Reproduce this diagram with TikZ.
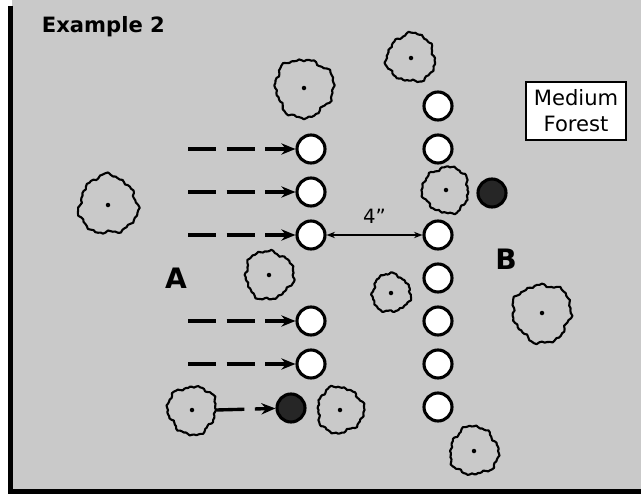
\documentclass[tikz,border=0pt]{standalone}
\usepackage{fontspec}
\setsansfont{DejaVu Sans}
\usetikzlibrary{arrows.meta}
\definecolor{paper}{RGB}{201,201,201}
\tikzset{
  peg/.style={circle, draw, line width=2.2pt, fill=white, minimum size=0.7cm, inner sep=0pt},
  hit/.style={peg, fill=black!85},
  bushline/.style={line width=1.5pt, fill=paper, line join=round},
  bushspot/.style={circle, draw=none, inner sep=0pt},
  shot/.style={line width=2.4pt, dash pattern=on 20pt off 7.5pt, -{Stealth[length=10pt,width=8pt]}},
  span/.style={line width=1.2pt, {Stealth[length=6pt,width=4.5pt]}-{Stealth[length=6pt,width=4.5pt]}},
  letter/.style={font=\sffamily\bfseries\fontsize{20}{24}\selectfont}
}
\begin{document}
\begin{tikzpicture}[x=0.025cm, y=-0.025cm]
  \useasboundingbox (0,0) rectangle (641,494);
  \fill[paper] (12,0) rectangle (641,490);
  \fill[black] (8,6) rectangle (13,494);
  \fill[black] (8,489) rectangle (641,494);

  \node[anchor=west, font=\sffamily\bfseries\fontsize{15}{18}\selectfont] (title) at (37,27) {Example 2};
  \node[draw, line width=1.8pt, fill=white, align=center, minimum width=2.5cm, minimum height=1.45cm,
        font=\sffamily\fontsize{15}{18.5}\selectfont] (forest) at (576,111) {Medium\\Forest};

  \foreach \bx/\by/\br/\ba/\bn in {108/205/29/0/k1, 304/88/29/40/k2, 411/58/24/100/k3,
      446/190/23/200/k4, 269/275/24/150/k5, 391/293/19/250/k6, 542/313/29/60/k7,
      192/410/24/300/k8, 340/410/23/20/k9, 474/451/24/120/k10} {
    \draw[bushline, shift={(\bx,\by)}, rotate=\ba]
      plot[smooth cycle, domain=0:355, samples=72, variable=\t]
      (\t:{\br*(1+0.05*sin(3*\t+20)+0.035*sin(7*\t)+0.03*sin(11*\t+60)+0.025*sin(23*\t))});
    \node[bushspot, minimum size=\br*0.05cm] (\bn) at (\bx,\by) {};
    \fill (\bn) circle (1.6pt);
  }

  \node[peg] (a1) at (311,149) {};
  \node[peg] (a2) at (311,192) {};
  \node[peg] (a3) at (311,235) {};
  \node[peg] (a5) at (311,321) {};
  \node[peg] (a6) at (311,364) {};
  \node[hit] (a7) at (291,408) {};

  \node[peg] (b0) at (438,106) {};
  \node[peg] (b1) at (438,149) {};
  \node[peg] (b3) at (438,235) {};
  \node[peg] (b4) at (438,278) {};
  \node[peg] (b5) at (438,321) {};
  \node[peg] (b6) at (438,364) {};
  \node[peg] (b7) at (438,407) {};
  \node[hit] (b2) at (492,193) {};

  \coordinate (s1) at (188,149);
  \coordinate (s2) at (188,192);
  \coordinate (s3) at (188,235);
  \coordinate (s5) at (188,321);
  \coordinate (s6) at (188,364);
  \draw[shot] (s1) -- (a1);
  \draw[shot] (s2) -- (a2);
  \draw[shot] (s3) -- (a3);
  \draw[shot] (s5) -- (a5);
  \draw[shot] (s6) -- (a6);
  \draw[shot] (k8.east) -- (a7);

  \draw[span] (a3) -- (b3) node[midway, above=4pt, font=\sffamily\fontsize{14}{16}\selectfont] (gap) {4"};

  \node[letter] (A) at (176,278) {A};
  \node[letter] (B) at (506,259) {B};
\end{tikzpicture}
\end{document}
